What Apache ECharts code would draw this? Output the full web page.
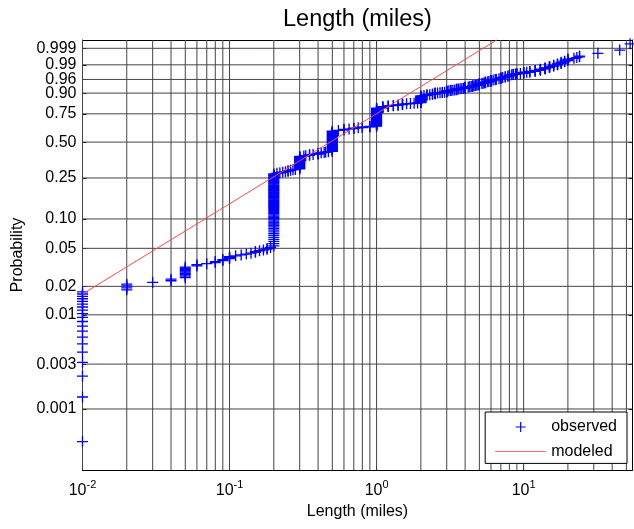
<!DOCTYPE html>
<html><head><meta charset="utf-8">
<script src="https://cdn.jsdelivr.net/npm/echarts@6/dist/echarts.min.js"></script>
<style>html,body{margin:0;padding:0;background:#fff}#c{width:634px;height:529px}</style>
</head><body><div id="c"></div>
<script>
// observed points: [length (miles), probability]
const observed = [
 [0.01,0.00045],[0.01,0.00134],[0.01,0.00224],[0.01,0.00313],[0.01,0.00403],[0.01,0.00492],[0.01,0.00581],[0.01,0.00671],[0.01,0.0076],[0.01,0.0085],
 [0.01,0.0094],[0.01,0.0103],[0.01,0.0112],[0.01,0.0121],[0.01,0.0130],[0.01,0.0139],[0.01,0.0148],[0.01,0.0157],[0.01,0.0166],[0.01,0.0175],
 [0.02,0.0184],[0.02,0.0193],[0.02,0.0202],[0.02,0.0211],
 [0.03,0.0220],
 [0.04,0.0229],[0.04,0.0238],
 [0.05,0.0247],[0.05,0.0256],[0.05,0.0265],[0.05,0.0274],[0.05,0.0283],[0.05,0.0292],[0.05,0.0301],[0.05,0.0310],[0.05,0.0319],
 [0.06,0.0328],[0.06,0.0337],[0.07,0.0346],[0.08,0.0355],[0.08,0.0364],[0.09,0.0373],[0.09,0.0382],
 [0.10,0.0391],[0.10,0.0400],[0.10,0.0409],
 [0.11,0.0418],[0.12,0.0427],[0.13,0.0436],[0.14,0.0445],[0.15,0.0454],[0.15,0.0463],[0.16,0.0472],[0.17,0.0481],[0.18,0.0490],[0.18,0.0499],[0.19,0.0510],
 [0.2,0.053],[0.2,0.056],[0.2,0.059],[0.2,0.062],[0.2,0.065],[0.2,0.068],[0.2,0.071],[0.2,0.074],[0.2,0.077],[0.2,0.080],
 [0.2,0.083],[0.2,0.086],[0.2,0.089],[0.2,0.092],[0.2,0.095],[0.2,0.098],[0.2,0.101],[0.2,0.104],[0.2,0.107],[0.2,0.110],
 [0.2,0.113],[0.2,0.116],[0.2,0.119],[0.2,0.122],[0.2,0.125],[0.2,0.128],[0.2,0.131],[0.2,0.134],[0.2,0.137],[0.2,0.140],
 [0.2,0.143],[0.2,0.146],[0.2,0.149],[0.2,0.152],[0.2,0.155],[0.2,0.158],[0.2,0.161],[0.2,0.164],[0.2,0.167],[0.2,0.170],
 [0.2,0.173],[0.2,0.176],[0.2,0.179],[0.2,0.182],[0.2,0.185],[0.2,0.188],[0.2,0.191],[0.2,0.194],[0.2,0.197],[0.2,0.200],
 [0.2,0.204],[0.2,0.208],[0.2,0.212],[0.2,0.216],[0.2,0.220],[0.2,0.224],[0.2,0.228],[0.2,0.232],[0.2,0.236],[0.2,0.240],
 [0.2,0.244],[0.2,0.248],[0.2,0.252],[0.2,0.256],[0.2,0.260],[0.2,0.264],[0.2,0.268],[0.2,0.272],
 [0.21,0.276],[0.22,0.279],[0.23,0.282],[0.24,0.285],[0.25,0.288],[0.25,0.291],[0.26,0.293],[0.27,0.296],[0.28,0.299],
 [0.3,0.302],[0.3,0.306],[0.3,0.310],[0.3,0.314],[0.3,0.318],[0.3,0.322],[0.3,0.326],[0.3,0.330],[0.3,0.334],[0.3,0.338],[0.3,0.342],
 [0.3,0.346],[0.3,0.350],[0.3,0.354],[0.3,0.358],[0.3,0.362],[0.3,0.366],[0.3,0.370],[0.3,0.374],[0.3,0.378],[0.3,0.382],[0.3,0.386],
 [0.32,0.389],[0.33,0.392],[0.35,0.395],[0.35,0.398],[0.37,0.401],[0.4,0.404],[0.4,0.407],[0.4,0.410],[0.42,0.413],[0.44,0.416],[0.45,0.419],[0.47,0.422],
 [0.5,0.425],[0.5,0.430],[0.5,0.435],[0.5,0.440],[0.5,0.445],[0.5,0.450],[0.5,0.455],[0.5,0.460],[0.5,0.465],[0.5,0.470],[0.5,0.475],[0.5,0.480],
 [0.5,0.485],[0.5,0.490],[0.5,0.495],[0.5,0.500],[0.5,0.505],[0.5,0.510],[0.5,0.515],[0.5,0.520],[0.5,0.525],[0.5,0.530],[0.5,0.535],[0.5,0.540],
 [0.5,0.545],[0.5,0.550],[0.5,0.555],[0.5,0.560],[0.5,0.565],[0.5,0.570],[0.5,0.575],[0.5,0.580],[0.5,0.585],[0.5,0.590],[0.5,0.595],
 [0.55,0.603],[0.6,0.607],[0.6,0.611],[0.65,0.615],[0.7,0.619],[0.7,0.622],[0.75,0.626],[0.8,0.629],[0.8,0.632],[0.9,0.635],[0.9,0.638],
 [1,0.641],[1,0.646],[1,0.651],[1,0.656],[1,0.661],[1,0.666],[1,0.671],[1,0.676],[1,0.681],[1,0.686],[1,0.691],[1,0.696],[1,0.701],[1,0.706],[1,0.711],[1,0.716],
 [1,0.721],[1,0.726],[1,0.731],[1,0.736],[1,0.741],[1,0.746],[1,0.751],[1,0.756],[1,0.761],[1,0.766],[1,0.771],[1,0.776],[1,0.781],[1,0.786],[1,0.791],[1,0.796],
 [1.1,0.800],[1.1,0.802],[1.1,0.804],[1.1,0.806],[1.1,0.808],[1.2,0.810],[1.2,0.812],[1.2,0.814],[1.3,0.816],[1.3,0.818],[1.4,0.820],[1.4,0.822],
 [1.5,0.824],[1.5,0.826],[1.5,0.828],[1.6,0.830],[1.7,0.832],[1.8,0.834],[1.9,0.836],
 [2,0.838],[2,0.841],[2,0.844],[2,0.847],[2,0.850],[2,0.853],[2,0.856],[2,0.859],[2,0.862],[2,0.865],[2,0.868],[2,0.871],[2,0.874],[2,0.877],[2,0.880],[2,0.884],
 [2.1,0.886],[2.2,0.888],[2.2,0.890],[2.3,0.891],[2.4,0.893],[2.4,0.894],[2.5,0.896],[2.5,0.897],[2.5,0.899],[2.5,0.900],[2.6,0.901],[2.7,0.902],[2.8,0.903],[2.8,0.904],[2.9,0.905],
 [3,0.906],[3,0.907],[3,0.909],[3,0.910],[3,0.912],[3.1,0.913],[3.2,0.914],[3.2,0.915],[3.3,0.916],[3.4,0.917],
 [3.5,0.918],[3.5,0.919],[3.5,0.920],[3.5,0.921],[3.6,0.922],[3.7,0.923],[3.8,0.924],[3.9,0.925],
 [4,0.926],[4,0.927],[4,0.928],[4,0.929],[4,0.930],[4.2,0.931],[4.3,0.932],[4.4,0.933],[4.5,0.934],[4.5,0.935],[4.5,0.936],[4.6,0.937],[4.7,0.938],[4.8,0.939],[4.9,0.940],
 [5,0.941],[5,0.942],[5,0.943],[5,0.944],[5,0.945],[5.2,0.946],[5.3,0.947],[5.4,0.948],[5.5,0.949],[5.5,0.950],[5.5,0.951],[5.7,0.952],[5.8,0.953],
 [6,0.954],[6,0.955],[6,0.956],[6,0.957],[6.2,0.958],[6.4,0.959],[6.5,0.960],[6.5,0.961],[6.8,0.962],
 [7,0.963],[7,0.964],[7,0.965],[7.2,0.966],[7.5,0.967],[7.5,0.968],[7.8,0.969],[8,0.970],[8,0.971],[8,0.972],[8.3,0.973],[8.5,0.9735],[8.5,0.974],[8.8,0.9745],
 [9,0.975],[9,0.9755],[9.5,0.976],[10,0.9765],[10,0.977],[10,0.9775],[10,0.978],[10.5,0.9785],[11,0.979],[11,0.9795],[11,0.980],
 [12,0.9805],[12,0.981],[12,0.9815],[12,0.982],[13,0.9825],[13,0.983],[13,0.9835],[13,0.984],[14,0.9845],[14,0.985],[14,0.9855],[14,0.986],
 [15,0.9865],[15,0.987],[15,0.9875],[15,0.988],[16,0.9885],[16,0.989],[16,0.9895],[17,0.990],[17,0.9905],[17,0.991],[18,0.9915],[18,0.992],[18,0.9925],
 [19,0.993],[19,0.9935],[20,0.994],[20,0.9945],[20,0.995],[22,0.9955],[23,0.9959],[24,0.9963],[24,0.9967],
 [32,0.99776],[45,0.99866],[53,0.99955]
];
// modeled (fitted) straight line on the probability paper, end points
const modelLength = [0.01, 6.6];
const modelProb = [0.0166, 0.9998];
// probability axis ticks
const probTicks = [0.001, 0.003, 0.01, 0.02, 0.05, 0.10, 0.25, 0.50, 0.75, 0.90, 0.96, 0.99, 0.999];
const probTickLabels = ['0.001','0.003','0.01','0.02','0.05','0.10','0.25','0.50','0.75','0.90','0.96','0.99','0.999'];
// log-axis grid positions (decades and their minor steps)
const xGridValues = [0.01,0.02,0.03,0.04,0.05,0.06,0.07,0.08,0.09,
  0.1,0.2,0.3,0.4,0.5,0.6,0.7,0.8,0.9,
  1,2,3,4,5,6,7,8,9,
  10,20,30,40,50];

const FONT = '"Liberation Sans", Arial, Helvetica, sans-serif';
const xMin = 0.01, xMax = 55;
const yMin = -8.403, yMax = 2.136;
const wq = p => Math.log(-Math.log(1 - p));   // Weibull probability-paper scale
const tickV = probTicks.map(wq);
const labelFor = v => {
  for (let i = 0; i < tickV.length; i++) if (Math.abs(tickV[i] - v) < 1e-6) return probTickLabels[i];
  return '';
};
const plusPath = 'path://M4.4,0H5.6V4.4H10V5.6H5.6V10H4.4V5.6H0V4.4H4.4Z';
const linePath = 'path://M0,0H50V1H0Z';
const gridColor = '#444444';
const modelColor = '#ff4a4a';

const chart = echarts.init(document.getElementById('c'), null, {renderer: 'canvas'});
chart.setOption({
  animation: false,
  backgroundColor: '#ffffff',
  title: {
    text: 'Length (miles)', left: 357.5, top: 8, textAlign: 'center', padding: 0,
    textStyle: {fontFamily: FONT, fontSize: 23.5, fontWeight: 'normal', color: '#000'}
  },
  grid: {left: 82.5, right: 1.5, top: 40, bottom: 59, containLabel: false, outerBoundsMode: 'none'},
  legend: {
    orient: 'vertical', right: 7, top: 412,
    data: [
      {name: 'observed', icon: plusPath},
      {name: 'modeled', icon: linePath}
    ],
    itemWidth: 51, itemHeight: 10, itemGap: 8.4,
    padding: [7, 10, 4, 10],
    borderColor: '#000', borderWidth: 1, backgroundColor: '#fff', borderRadius: 0,
    textStyle: {fontFamily: FONT, fontSize: 16, color: '#000', lineHeight: 16},
    selectedMode: false
  },
  xAxis: [{
    type: 'log', logBase: 10, min: xMin, max: xMax, position: 'bottom',
    name: 'Length (miles)', nameLocation: 'middle', nameGap: 33,
    nameTextStyle: {fontFamily: FONT, fontSize: 16, color: '#000'},
    axisLine: {show: true, onZero: false, lineStyle: {color: '#000', width: 1}},
    axisTick: {show: true, inside: true, length: 4, lineStyle: {color: '#000'}},
    axisLabel: {
      margin: 13, showMaxLabel: false,
      formatter: v => {
        const e = Math.log10(v);
        if (Math.abs(e - Math.round(e)) > 1e-6) return '';
        return '{b|10}{s|' + Math.round(e) + '}';
      },
      rich: {
        b: {fontFamily: FONT, fontSize: 16, color: '#000', verticalAlign: 'bottom', lineHeight: 16},
        s: {fontFamily: FONT, fontSize: 11, color: '#000', verticalAlign: 'bottom', lineHeight: 11, padding: [0, 0, 9, 0]}
      }
    },
    splitLine: {show: false}
  }, {
    type: 'log', logBase: 10, min: xMin, max: xMax, position: 'top',
    axisLine: {show: true, onZero: false, lineStyle: {color: '#000', width: 1}},
    axisTick: {show: true, inside: true, length: 4, lineStyle: {color: '#000'}},
    axisLabel: {show: false}, splitLine: {show: false}
  }],
  yAxis: [{
    type: 'value', min: yMin, max: yMax, position: 'left',
    name: 'Probability', nameLocation: 'middle', nameGap: 56, nameRotate: 90,
    nameTextStyle: {fontFamily: FONT, fontSize: 16, color: '#000'},
    axisLine: {show: true, onZero: false, lineStyle: {color: '#000', width: 1}},
    axisTick: {show: true, inside: true, length: 4, customValues: tickV, lineStyle: {color: '#000'}},
    axisLabel: {customValues: tickV, formatter: labelFor, margin: 6, fontFamily: FONT, fontSize: 16, color: '#000'},
    splitLine: {show: false}
  }, {
    type: 'value', min: yMin, max: yMax, position: 'right',
    axisLine: {show: true, onZero: false, lineStyle: {color: '#000', width: 1}},
    axisTick: {show: true, inside: true, length: 4, customValues: tickV, lineStyle: {color: '#000'}},
    axisLabel: {show: false}, splitLine: {show: false}
  }],
  series: [{
    type: 'custom', name: 'xgrid', silent: true, z: 1, xAxisIndex: 0, yAxisIndex: 0,
    data: xGridValues.map(v => [v, 0]),
    renderItem: (params, api) => {
      const a = api.coord([api.value(0), yMin]);
      const b = api.coord([api.value(0), yMax]);
      return {type: 'line', shape: {x1: a[0], y1: a[1], x2: b[0], y2: b[1]}, style: {stroke: gridColor, lineWidth: 1}};
    }
  }, {
    type: 'custom', name: 'ygrid', silent: true, z: 1, xAxisIndex: 0, yAxisIndex: 0,
    data: tickV.map(v => [1, v]),
    renderItem: (params, api) => {
      const a = api.coord([xMin, api.value(1)]);
      const b = api.coord([xMax, api.value(1)]);
      return {type: 'line', shape: {x1: a[0], y1: a[1], x2: b[0], y2: b[1]}, style: {stroke: gridColor, lineWidth: 1}};
    }
  }, {
    type: 'scatter', name: 'observed', z: 3,
    symbol: plusPath, symbolSize: 11,
    itemStyle: {color: '#0000ff', opacity: 1},
    data: observed.map(d => [d[0], wq(d[1])])
  }, {
    // legend swatch carrier for the modeled line (no data of its own)
    type: 'scatter', name: 'modeled', z: 4,
    itemStyle: {color: modelColor},
    data: []
  }, {
    type: 'line', name: 'modeled', z: 4, symbol: 'none',
    itemStyle: {color: modelColor},
    lineStyle: {color: modelColor, width: 1},
    data: modelLength.map((x, i) => [x, wq(modelProb[i])])
  }]
});
</script></body></html>
